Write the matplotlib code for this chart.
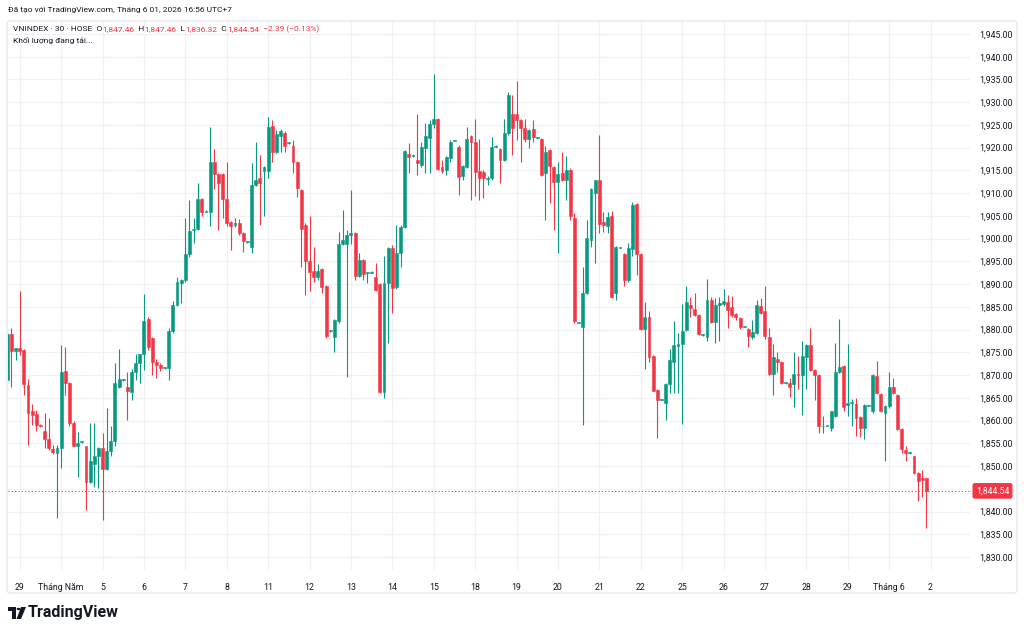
import numpy as np
import matplotlib.pyplot as plt
from matplotlib.patches import FancyBboxPatch, Polygon, Circle

# VNINDEX 30-minute bars, 28/04 (last 3 bars) -> 01/06
opens = [1869.0, 1879.0, 1875.4, 1875.9, 1875.5, 1867.8, 1862.0, 1861.4, 1858.9, 1857.7,
         1855.9, 1853.7, 1852.8, 1853.9, 1870.9, 1868.2, 1859.4, 1854.3, 1855.2, 1854.3,
         1846.4, 1850.4, 1852.2, 1854.0, 1849.3, 1853.3, 1855.5, 1867.4, 1868.9, 1867.4,
         1866.3, 1870.7, 1872.6, 1874.6, 1882.3, 1878.2, 1872.9, 1872.2, 1871.6, 1871.6,
         1879.7, 1885.4, 1890.3, 1890.9, 1896.6, 1901.8, 1902.1, 1908.7, 1905.9, 1905.9,
         1916.9, 1914.3, 1914.2, 1908.7, 1903.6, 1903.0, 1903.4, 1901.3, 1899.3, 1898.1,
         1911.8, 1913.3, 1914.9, 1914.9, 1924.8, 1919.1, 1922.5, 1923.2, 1921.0, 1920.4,
         1916.8, 1910.6, 1903.1, 1895.1, 1892.9, 1891.6, 1893.3, 1889.6, 1879.7, 1878.3,
         1881.8, 1898.8, 1898.8, 1900.8, 1901.2, 1891.8, 1895.3, 1892.4, 1892.5, 1891.5,
         1890.0, 1866.3, 1890.3, 1898.0, 1889.3, 1896.8, 1902.6, 1918.6, 1918.1, 1917.4,
         1916.3, 1919.9, 1922.2, 1925.1, 1926.4, 1915.7, 1915.2, 1917.8, 1921.5, 1920.2,
         1913.8, 1915.8, 1922.6, 1921.3, 1914.9, 1914.7, 1913.1, 1913.3, 1920.2, 1919.6,
         1917.3, 1923.3, 1927.5, 1927.5, 1926.1, 1924.3, 1921.9, 1924.0, 1922.2, 1921.9,
         1914.4, 1919.5, 1915.7, 1912.5, 1914.4, 1912.9, 1915.2, 1904.5, 1881.5, 1880.6,
         1888.0, 1899.7, 1910.0, 1912.9, 1903.7, 1902.8, 1904.9, 1888.0, 1898.0, 1896.6,
         1890.8, 1897.7, 1907.6, 1896.6, 1880.1, 1882.7, 1874.2, 1866.7, 1864.6, 1863.9,
         1868.0, 1872.9, 1876.4, 1876.8, 1879.9, 1885.4, 1884.5, 1883.2, 1878.8, 1878.4,
         1886.6, 1881.7, 1885.3, 1885.6, 1886.1, 1885.0, 1883.4, 1882.5, 1880.6, 1880.1,
         1878.3, 1879.3, 1885.2, 1884.0, 1878.4, 1870.3, 1873.5, 1872.9, 1868.2, 1868.2,
         1868.0, 1870.3, 1870.0, 1874.0, 1876.6, 1871.1, 1870.0, 1858.7, 1858.8, 1858.3,
         1861.0, 1870.7, 1872.0, 1863.4, 1863.8, 1863.6, 1860.7, 1858.3, 1863.2, 1862.2,
         1869.8, 1865.8, 1861.7, 1863.2, 1867.4, 1865.6, 1858.1, 1853.6, 1852.8, 1852.1,
         1848.5, 1847.3, 1847.46]
highs = [1880.5, 1880.3, 1876.0, 1888.5, 1875.8, 1869.1, 1863.6, 1862.3, 1859.2, 1861.6,
         1860.6, 1854.6, 1854.6, 1876.6, 1876.2, 1868.5, 1860.0, 1857.5, 1855.6, 1854.5,
         1859.4, 1859.4, 1854.2, 1857.2, 1862.7, 1858.8, 1872.6, 1875.7, 1869.1, 1870.7,
         1871.3, 1874.6, 1874.6, 1887.8, 1882.8, 1878.4, 1873.6, 1872.6, 1871.8, 1880.3,
         1886.2, 1891.6, 1891.1, 1904.5, 1908.5, 1904.5, 1912.2, 1908.9, 1906.3, 1924.6,
         1919.6, 1914.5, 1914.4, 1916.9, 1903.8, 1904.5, 1904.3, 1901.5, 1899.5, 1916.7,
         1921.3, 1918.4, 1916.0, 1926.7, 1926.0, 1923.9, 1924.1, 1923.6, 1921.2, 1921.7,
         1917.0, 1911.0, 1903.5, 1905.0, 1898.2, 1894.4, 1893.5, 1889.8, 1880.0, 1882.4,
         1901.4, 1906.3, 1901.9, 1910.7, 1901.5, 1896.9, 1895.5, 1892.6, 1892.8, 1894.6,
         1890.2, 1896.2, 1898.2, 1898.6, 1903.0, 1903.0, 1919.5, 1921.0, 1918.3, 1927.3,
         1921.2, 1925.5, 1926.0, 1936.2, 1926.6, 1917.4, 1918.2, 1921.7, 1921.7, 1920.5,
         1916.2, 1924.6, 1922.8, 1926.4, 1921.9, 1915.0, 1913.8, 1922.3, 1920.5, 1920.0,
         1926.4, 1932.3, 1931.6, 1934.6, 1926.4, 1926.2, 1924.1, 1926.1, 1922.4, 1922.1,
         1920.4, 1919.7, 1916.0, 1916.9, 1919.1, 1918.2, 1915.5, 1905.7, 1881.7, 1893.7,
         1904.2, 1911.1, 1913.0, 1922.8, 1905.9, 1905.9, 1906.1, 1898.3, 1898.2, 1896.8,
         1899.0, 1908.1, 1907.8, 1896.8, 1886.1, 1884.1, 1874.4, 1867.0, 1864.8, 1868.2,
         1875.7, 1881.8, 1879.2, 1885.6, 1889.6, 1887.2, 1888.1, 1883.5, 1879.0, 1891.1,
         1887.2, 1886.9, 1887.1, 1888.9, 1887.6, 1887.4, 1883.6, 1882.7, 1880.8, 1880.4,
         1882.1, 1886.6, 1886.9, 1889.6, 1880.3, 1876.8, 1875.1, 1873.2, 1868.4, 1869.3,
         1875.1, 1874.2, 1877.6, 1876.8, 1880.3, 1871.4, 1870.2, 1860.9, 1859.0, 1862.2,
         1877.0, 1882.3, 1872.2, 1876.8, 1864.7, 1864.9, 1860.9, 1863.6, 1863.4, 1870.2,
         1873.0, 1866.0, 1863.4, 1870.7, 1869.3, 1865.9, 1858.3, 1854.4, 1853.0, 1852.3,
         1848.7, 1849.1, 1847.46]
lows = [1866.5, 1867.4, 1873.3, 1874.4, 1865.6, 1854.6, 1859.0, 1857.6, 1858.6, 1853.9,
        1853.5, 1852.6, 1838.5, 1849.5, 1865.6, 1858.7, 1854.3, 1847.6, 1855.0, 1840.3,
        1846.2, 1845.5, 1845.1, 1838.1, 1849.1, 1852.1, 1854.3, 1867.2, 1868.7, 1860.1,
        1864.5, 1868.9, 1868.3, 1871.1, 1875.5, 1870.0, 1869.3, 1870.8, 1871.4, 1868.9,
        1879.3, 1885.2, 1885.8, 1890.5, 1896.0, 1899.0, 1901.8, 1904.9, 1905.9, 1902.8,
        1910.9, 1901.9, 1904.5, 1902.8, 1897.5, 1902.5, 1900.7, 1897.1, 1899.1, 1896.9,
        1911.5, 1903.0, 1904.9, 1913.3, 1916.9, 1918.9, 1919.1, 1919.1, 1920.8, 1914.4,
        1909.2, 1893.8, 1887.6, 1888.5, 1890.5, 1890.9, 1888.1, 1878.2, 1879.5, 1875.1,
        1881.5, 1898.5, 1869.6, 1898.8, 1890.9, 1891.5, 1891.0, 1890.2, 1892.4, 1888.5,
        1866.0, 1864.9, 1877.0, 1883.7, 1889.0, 1893.8, 1902.4, 1914.5, 1917.9, 1914.0,
        1915.7, 1914.4, 1914.4, 1924.3, 1915.2, 1914.4, 1914.0, 1916.9, 1921.4, 1909.6,
        1912.9, 1915.5, 1908.5, 1909.4, 1908.6, 1908.9, 1911.8, 1913.0, 1920.1, 1912.3,
        1917.0, 1922.8, 1918.4, 1921.7, 1916.9, 1921.3, 1919.9, 1921.3, 1922.1, 1913.8,
        1904.2, 1907.9, 1901.9, 1896.8, 1912.7, 1908.6, 1904.1, 1881.5, 1881.4, 1859.0,
        1887.8, 1898.1, 1894.6, 1901.2, 1901.5, 1901.2, 1886.9, 1886.5, 1897.9, 1889.6,
        1890.5, 1896.2, 1892.0, 1879.9, 1871.3, 1872.9, 1866.4, 1856.1, 1864.5, 1860.1,
        1866.0, 1866.1, 1866.1, 1859.2, 1879.7, 1882.8, 1883.0, 1878.8, 1878.7, 1877.4,
        1881.5, 1877.1, 1877.5, 1885.2, 1880.3, 1882.8, 1882.1, 1880.2, 1880.5, 1876.2,
        1878.0, 1879.0, 1883.5, 1877.9, 1870.1, 1865.6, 1870.7, 1868.0, 1868.1, 1865.1,
        1863.0, 1866.9, 1861.2, 1866.9, 1870.9, 1864.5, 1857.2, 1857.2, 1858.7, 1857.6,
        1860.8, 1870.5, 1862.2, 1860.9, 1858.8, 1856.6, 1856.3, 1855.9, 1863.1, 1861.6,
        1865.8, 1861.8, 1851.0, 1862.8, 1865.8, 1857.9, 1852.8, 1851.0, 1852.7, 1848.3,
        1842.4, 1843.3, 1836.32]
closes = [1879.0, 1875.4, 1875.9, 1875.4, 1868.0, 1861.6, 1861.2, 1859.0, 1858.8, 1855.9,
          1854.0, 1853.1, 1853.9, 1870.7, 1868.3, 1859.4, 1854.4, 1855.1, 1855.4, 1846.4,
          1851.0, 1852.2, 1854.0, 1849.3, 1853.3, 1855.5, 1868.3, 1869.1, 1868.9, 1866.5,
          1870.7, 1872.6, 1874.6, 1881.9, 1876.2, 1872.9, 1872.2, 1871.6, 1871.7, 1879.7,
          1885.4, 1890.5, 1890.9, 1896.6, 1901.7, 1902.1, 1908.7, 1905.8, 1906.1, 1916.9,
          1914.3, 1912.3, 1908.7, 1903.4, 1902.8, 1903.4, 1901.2, 1899.5, 1899.4, 1911.7,
          1912.9, 1912.3, 1915.8, 1924.6, 1919.1, 1923.0, 1923.6, 1920.3, 1921.1, 1916.8,
          1911.1, 1902.2, 1895.1, 1892.7, 1891.6, 1892.9, 1889.4, 1878.6, 1879.8, 1882.1,
          1898.8, 1899.6, 1900.8, 1901.2, 1891.8, 1895.4, 1892.2, 1892.5, 1892.7, 1888.7,
          1866.3, 1890.3, 1898.0, 1889.1, 1896.9, 1902.6, 1919.3, 1918.0, 1918.2, 1916.7,
          1920.2, 1922.6, 1925.1, 1926.2, 1915.4, 1914.9, 1918.0, 1921.3, 1921.6, 1913.6,
          1916.0, 1922.0, 1921.3, 1914.7, 1913.4, 1913.3, 1913.4, 1920.1, 1920.3, 1917.3,
          1923.3, 1931.6, 1924.3, 1926.1, 1924.3, 1921.9, 1923.9, 1922.3, 1922.3, 1914.0,
          1919.1, 1916.0, 1912.5, 1914.2, 1912.9, 1915.2, 1904.9, 1881.8, 1881.6, 1888.0,
          1900.1, 1910.9, 1912.8, 1903.2, 1903.0, 1904.7, 1887.1, 1898.1, 1898.1, 1891.0,
          1897.9, 1907.4, 1896.6, 1880.1, 1882.7, 1873.9, 1866.6, 1864.5, 1864.7, 1868.0,
          1873.3, 1876.6, 1876.8, 1879.8, 1886.1, 1884.8, 1883.2, 1879.0, 1878.9, 1886.6,
          1881.7, 1885.4, 1885.8, 1886.2, 1884.3, 1883.2, 1882.7, 1880.6, 1880.7, 1878.6,
          1879.5, 1885.4, 1883.7, 1878.6, 1870.3, 1873.9, 1872.9, 1868.2, 1868.3, 1867.4,
          1870.2, 1870.0, 1874.2, 1876.6, 1871.1, 1870.0, 1858.7, 1858.8, 1858.9, 1862.0,
          1870.7, 1871.7, 1863.0, 1863.9, 1864.0, 1860.5, 1858.3, 1863.4, 1863.3, 1870.0,
          1866.0, 1862.0, 1863.2, 1867.4, 1866.0, 1858.1, 1853.7, 1852.8, 1852.9, 1848.5,
          1846.8, 1846.93, 1844.54]

day_labels = ['29', 'Tháng Năm', '5', '6', '7', '8', '11', '12', '13', '14', '15',
              '18', '19', '20', '21', '22', '25', '26', '27', '28', '29', 'Tháng 6', '2']
bars_per_day = 10
first_day_bar = 3

UP = '#089981'
DOWN = '#F23645'
TXT = '#131722'
GRID = '#f0f1f4'
FONT = ['Roboto', 'DejaVu Sans']
plt.rcParams['font.family'] = FONT

W, H = 1024, 635
fig = plt.figure(figsize=(W / 100, H / 100), dpi=100)
fig.patch.set_facecolor('white')

# outer frame of the chart
fig.patches.append(FancyBboxPatch((7 / W, 1 - 593 / H), 1010 / W, 572 / H,
                                  boxstyle='round,pad=0,rounding_size=0.004',
                                  transform=fig.transFigure, fc='none', ec='#e0e3eb', lw=0.8))

left, right, top, bottom = 8, 970, 21, 570
ax = fig.add_axes([left / W, 1 - bottom / H, (right - left) / W, (bottom - top) / H])
ax.set_facecolor('none')

# pixel -> value scales
px_per_bar = 4.14
x0_px = 7.3
px_per_pt = 4.548
y1830_px = 557
ax.set_xlim((left - x0_px) / px_per_bar, (right - x0_px) / px_per_bar)
ax.set_ylim(1830 - (bottom - y1830_px) / px_per_pt, 1830 + (y1830_px - top) / px_per_pt)

o = np.array(opens); h = np.array(highs); l = np.array(lows); c = np.array(closes)
x = np.arange(len(o))
col = np.where(c >= o, UP, DOWN)
ax.vlines(x, l, h, colors=col, lw=0.8, zorder=3)
body_lo = np.minimum(o, c)
body_h = np.maximum(np.abs(c - o), 0.2)
ax.bar(x, body_h, bottom=body_lo, width=0.7, color=col, edgecolor=col, lw=0.4, zorder=4)

# grid and axes
yt = np.arange(1830, 1946, 5)
ax.set_yticks(yt)
ax.set_yticklabels(['' if v == 1845 else f'{v:,.2f}' for v in yt])
xt = [first_day_bar + bars_per_day * k for k in range(len(day_labels))]
ax.set_xticks(xt)
ax.set_xticklabels(day_labels)
ax.yaxis.tick_right()
ax.tick_params(axis='y', length=0, pad=6.5, labelsize=6.3, labelcolor=TXT)
ax.tick_params(axis='x', length=0, pad=9, labelsize=6.3, labelcolor=TXT)
ax.grid(True, color=GRID, lw=0.9, zorder=0)
for s in ax.spines.values():
    s.set_visible(False)

# last price line + label
last = closes[-1]
ax.axhline(last, color=DOWN, ls=(0, (1, 2)), lw=0.8, zorder=2)
ax.text(1.006, last, f'{last:,.2f}', transform=ax.get_yaxis_transform(), color='white',
        fontsize=6.3, va='center', ha='left', clip_on=False, zorder=6,
        bbox=dict(boxstyle='round,pad=0.3,rounding_size=0.2', fc=DOWN, ec=DOWN))

renderer = fig.canvas.get_renderer()


def line_of_text(xp, yp, parts, size=6.0):
    for s, colr in parts:
        t = fig.text(xp / W, 1 - yp / H, s, color=colr, fontsize=size, va='center', ha='left')
        xp += t.get_window_extent(renderer).width


line_of_text(8, 10, [('Đã tạo với TradingView.com, Tháng 6 01, 2026 16:56 UTC+7', TXT)])
chg = closes[-1] - closes[-2]
line_of_text(13, 29, [('VNINDEX · 30 · HOSE  O', TXT), (f'{opens[-1]:,.2f}', DOWN),
                      ('  H', TXT), (f'{highs[-1]:,.2f}', DOWN),
                      ('  L', TXT), (f'{lows[-1]:,.2f}', DOWN),
                      ('  C', TXT), (f'{closes[-1]:,.2f}', DOWN),
                      (f'  \u2212{abs(chg):.2f} (\u2212{abs(chg) / closes[-2] * 100:.2f}%)', DOWN)])
line_of_text(13, 41, [('Khối lượng đang tải...', TXT)])

# TradingView logo
def P(xp, yp):
    return (xp / W, 1 - yp / H)


fig.patches.append(Polygon([P(8, 607), P(16, 607), P(16, 619), P(12, 619), P(12, 611), P(8, 611)],
                           closed=True, transform=fig.transFigure, fc=TXT, ec='none'))
fig.patches.append(Circle(P(18.5, 609), 1.9 / W, transform=fig.transFigure, fc=TXT, ec='none'))
fig.patches.append(Polygon([P(21, 607), P(26, 607), P(21, 619), P(16.5, 619)],
                           closed=True, transform=fig.transFigure, fc=TXT, ec='none'))
fig.text(28 / W, 1 - 613 / H, 'TradingView', fontsize=11.5, fontweight='bold', color=TXT,
         va='center', ha='left')

fig.savefig('out.png', dpi=100)
